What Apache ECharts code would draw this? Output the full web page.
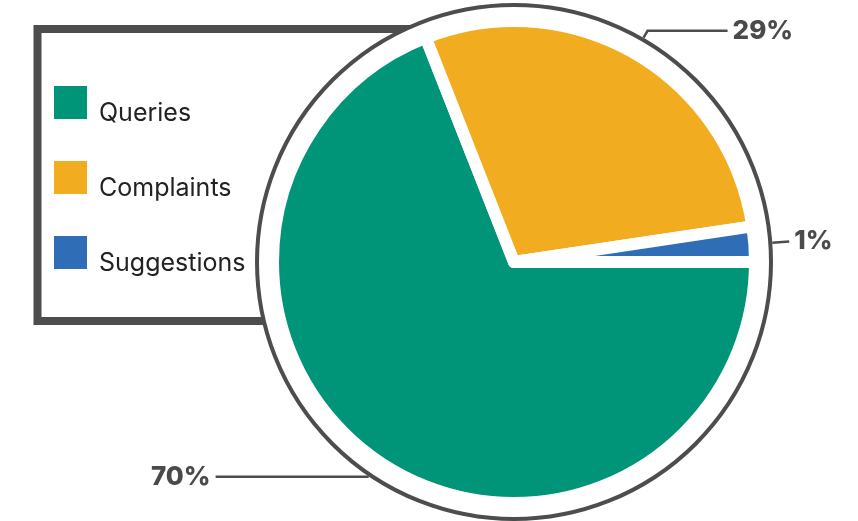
<!DOCTYPE html>
<html>
<head>
<meta charset="utf-8">
<title>Feedback split</title>
<script src="https://cdn.jsdelivr.net/npm/echarts@6/dist/echarts.min.js"></script>
<style>
  html, body { margin: 0; padding: 0; background: #fff; }
  #chart { width: 858px; height: 521px; }
</style>
</head>
<body>
<div id="chart"></div>
<script>
// data
const categories = ['Queries', 'Complaints', 'Suggestions'];
const shares = [70, 29, 1];
const sliceColors = ['#009578', '#F2AC1F', '#2F6EB6'];
// leader line per slice: [radial part, horizontal part]
const leaderLengths = [[1, 152], [8, 80], [17, 0]];

const chart = echarts.init(document.getElementById('chart'));
const pieCenter = [514, 262];

const sliceData = categories.map((name, i) => ({
  name: name,
  value: shares[i],
  itemStyle: { color: sliceColors[i] }
}));

const labelData = categories.map((name, i) => ({
  name: name,
  value: shares[i],
  labelLine: { length: leaderLengths[i][0], length2: leaderLengths[i][1] }
}));

const option = {
  animation: false,
  // legend frame, its right side is hidden by the pie
  graphic: [{
    type: 'rect',
    z: 0,
    shape: { x: 37.5, y: 29, width: 420, height: 292 },
    style: { fill: 'none', stroke: '#4d4d4d', lineWidth: 8 }
  }],
  legend: {
    data: categories,
    orient: 'vertical',
    left: 54,
    top: 79,
    padding: 0,
    icon: 'rect',
    itemWidth: 33,
    itemHeight: 33,
    itemGap: 28,
    selectedMode: false,
    itemStyle: { borderWidth: 0 },
    formatter: '{t|{name}}',
    textStyle: {
      rich: {
        t: {
          fontFamily: 'Inter',
          fontSize: 25,
          color: '#222',
          lineHeight: 16,
          padding: [22, 0, 0, 7]
        }
      }
    }
  },
  series: [
    {
      // white disc with grey rim
      type: 'pie',
      center: pieCenter,
      radius: 257,
      silent: true,
      z: 1,
      label: { show: false },
      labelLine: { show: false },
      data: [{ value: 1, name: '', itemStyle: { color: '#fff', borderColor: '#4d4d4d', borderWidth: 4 } }]
    },
    {
      type: 'pie',
      center: pieCenter,
      radius: 241,
      startAngle: 0,
      minAngle: 8.5,
      silent: true,
      z: 2,
      label: { show: false },
      labelLine: { show: false },
      itemStyle: { borderColor: '#fff', borderWidth: 12 },
      data: sliceData
    },
    {
      // same slices, invisible, only to carry the labels from the rim
      type: 'pie',
      center: pieCenter,
      radius: 259,
      startAngle: 0,
      minAngle: 8.5,
      silent: true,
      z: 3,
      avoidLabelOverlap: false,
      itemStyle: { color: 'rgba(0,0,0,0)', borderWidth: 0 },
      label: {
        show: true,
        position: 'outside',
        formatter: '{d}%',
        fontFamily: 'Inter',
        fontSize: 26,
        fontWeight: 800,
        color: '#4a4a4a'
      },
      labelLine: {
        show: true,
        lineStyle: { color: '#4d4d4d', width: 2.5 }
      },
      data: labelData
    }
  ]
};

chart.setOption(option);
window.addEventListener('resize', function () {
  chart.resize();
});
</script>
</body>
</html>
